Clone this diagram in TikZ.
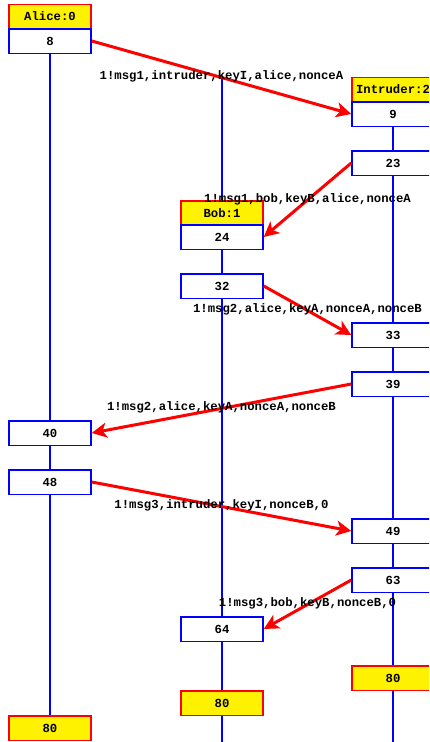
\documentclass[tikz,border=0pt]{standalone}
\usepackage{fontspec}
\setmonofont{Liberation Mono}
\usetikzlibrary{arrows.meta,backgrounds}
\begin{document}
\begin{tikzpicture}[x=1pt,y=-1pt,
  every node/.style={font=\ttfamily\bfseries\fontsize{12.3}{14}\selectfont},
  state/.style={draw=blue, fill=white, line width=1.5pt, minimum width=82pt, minimum height=24.5pt, inner sep=0pt},
  head/.style={draw=red, fill=yellow, line width=1.5pt, minimum width=82pt, minimum height=24.5pt, inner sep=0pt},
  life/.style={draw=blue, line width=1.5pt},
  msg/.style={draw=red, line width=3pt, -{Stealth[length=15pt,width=15pt,inset=4pt]}},
  lbl/.style={inner sep=0pt, midway, yshift=1pt, text=black}]
\useasboundingbox (0,0) rectangle (429,742);
\clip (0,0) rectangle (429,742);
% Alice
\node[head]  (ah)  at (50,16.5) {Alice:0};
\node[state] (a8)  at (50,41)   {8};
\node[state] (a40) at (50,433)  {40};
\node[state] (a48) at (50,482)  {48};
\node[head]  (a80) at (50,728)  {80};
% Bob
\coordinate (btop) at (222,77);
\coordinate (bbot) at (222,742);
\node[head]  (bh)  at (222,213) {Bob:1};
\node[state] (b24) at (222,237) {24};
\node[state] (b32) at (222,286) {32};
\node[state] (b64) at (222,629) {64};
\node[head]  (b80) at (222,703) {80};
% Intruder
\coordinate (ibot) at (393,742);
\node[head]  (ih)  at (393,89.5) {Intruder:2};
\node[state] (i9)  at (393,114) {9};
\node[state] (i23) at (393,163) {23};
\node[state] (i33) at (393,335) {33};
\node[state] (i39) at (393,384) {39};
\node[state] (i49) at (393,531) {49};
\node[state] (i63) at (393,580) {63};
\node[head]  (i80) at (393,678) {80};
% lifelines
\begin{scope}[on background layer]
  \draw[life] (a8) -- (a80);
  \draw[life] (btop) -- (bbot);
  \draw[life] (i9) -- (ibot);
\end{scope}
% messages
\draw[msg] (a8.east)  -- (i9.west)  node[lbl] {1!msg1,intruder,keyI,alice,nonceA};
\draw[msg] (i23.west) -- (b24.east) node[lbl] {1!msg1,bob,keyB,alice,nonceA};
\draw[msg] (b32.east) -- (i33.west) node[lbl] {1!msg2,alice,keyA,nonceA,nonceB};
\draw[msg] (i39.west) -- (a40.east) node[lbl] {1!msg2,alice,keyA,nonceA,nonceB};
\draw[msg] (a48.east) -- (i49.west) node[lbl] {1!msg3,intruder,keyI,nonceB,0};
\draw[msg] (i63.west) -- (b64.east) node[lbl] {1!msg3,bob,keyB,nonceB,0};
\end{tikzpicture}
\end{document}
